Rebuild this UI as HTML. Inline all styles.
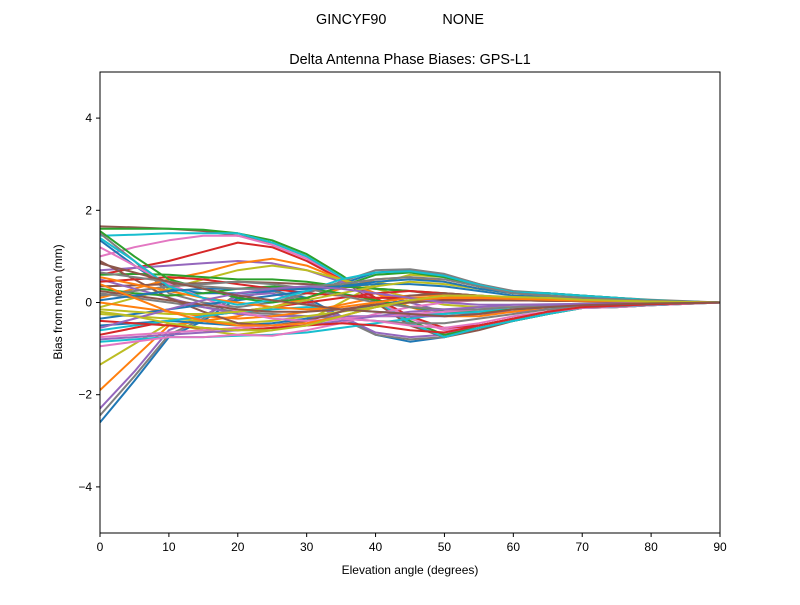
<!DOCTYPE html>
<html><head><meta charset="utf-8"><style>
body{margin:0;background:#fff}
svg text{font-family:"Liberation Sans","DejaVu Sans",sans-serif;fill:#000}
</style></head><body>
<svg id="chart" width="800" height="600" xmlns="http://www.w3.org/2000/svg">
<rect width="800" height="600" fill="#fff"/>
<text x="400" y="24" font-size="14.4" text-anchor="middle" xml:space="preserve">GINCYF90              NONE</text>
<text x="410" y="64" font-size="14.4" text-anchor="middle">Delta Antenna Phase Biases: GPS-L1</text>
<g id="plot"></g>
<rect x="100" y="72" width="620" height="461" fill="none" stroke="#000" stroke-width="1"/>
<g id="axes"></g>
<text x="410" y="574" font-size="12" text-anchor="middle">Elevation angle (degrees)</text>
<text transform="translate(62,302) rotate(-90)" font-size="12" text-anchor="middle">Bias from mean (mm)</text>
</svg>
<script>
const elevations=[0,5,10,15,20,25,30,35,40,45,50,55,60,65,70,75,80,85,90];
const xTicks=[0,10,20,30,40,50,60,70,80,90];
const yTicks=[-4,-2,0,2,4];
const yTickLabels=["\u22124","\u22122","0","2","4"];
const s01=[-2.6,-1.7,-0.75,-0.4,0.1,0.25,0.1,-0.3,-0.7,-0.85,-0.75,-0.55,-0.4,-0.25,-0.1,-0.08,-0.05,-0.02,0];
const s02=[-2.45,-1.6,-0.7,-0.35,0.2,0.25,0.05,-0.35,-0.7,-0.8,-0.75,-0.55,-0.4,-0.25,-0.1,-0.08,-0.05,-0.02,0];
const s03=[-2.3,-1.5,-0.6,-0.3,0.15,0.2,0.0,-0.3,-0.65,-0.75,-0.7,-0.5,-0.35,-0.2,-0.1,-0.06,-0.04,-0.02,0];
const s04=[-1.9,-1.2,-0.5,-0.4,-0.3,-0.1,0.1,0.3,0.5,0.55,0.45,0.3,0.2,0.15,0.1,0.06,0.04,0.02,0];
const s05=[-1.35,-0.9,-0.45,-0.6,-0.7,-0.6,-0.4,0.0,0.4,0.6,0.55,0.35,0.2,0.2,0.15,0.1,0.05,0.02,0];
const s06=[1.65,1.63,1.6,1.55,1.45,1.3,1.0,0.5,0.0,-0.5,-0.75,-0.6,-0.4,-0.25,-0.12,-0.1,-0.06,-0.03,0];
const s07=[1.6,1.6,1.6,1.58,1.5,1.35,1.05,0.6,0.1,-0.4,-0.7,-0.55,-0.4,-0.25,-0.12,-0.1,-0.06,-0.03,0];
const s08=[1.45,1.47,1.5,1.5,1.5,1.3,1.0,0.55,0.05,-0.45,-0.75,-0.55,-0.4,-0.25,-0.12,-0.1,-0.06,-0.03,0];
const s09=[1.0,1.2,1.35,1.45,1.45,1.25,0.95,0.5,0.05,-0.35,-0.6,-0.5,-0.35,-0.2,-0.12,-0.1,-0.06,-0.03,0];
const s10=[0.6,0.75,0.9,1.1,1.3,1.2,0.9,0.5,0.1,-0.3,-0.55,-0.5,-0.35,-0.2,-0.1,-0.08,-0.05,-0.02,0];
const s11=[1.35,0.8,0.3,0.2,0.2,0.25,0.3,0.4,0.65,0.7,0.6,0.4,0.2,0.2,0.15,0.1,0.05,0.02,0];
const s12=[1.5,0.9,0.2,0.0,-0.1,0.0,0.2,0.45,0.7,0.72,0.62,0.4,0.25,0.2,0.15,0.1,0.06,0.03,0];
const s13=[0.7,0.75,0.8,0.85,0.9,0.85,0.7,0.45,0.2,0.0,-0.2,-0.25,-0.2,-0.15,-0.1,-0.07,-0.05,-0.02,0];
const s14=[0.1,0.3,0.5,0.65,0.85,0.95,0.8,0.5,0.2,-0.1,-0.3,-0.3,-0.2,-0.1,-0.05,-0.04,-0.03,-0.01,0];
const s15=[-0.1,0.1,0.3,0.5,0.7,0.8,0.7,0.5,0.3,0.1,-0.05,-0.1,-0.1,-0.05,-0.03,-0.02,-0.01,0,0];
const s16=[0.35,0.37,0.4,0.42,0.45,0.43,0.4,0.35,0.3,0.25,0.15,0.1,0.05,0.05,0.03,0.02,0.01,0,0];
const s17=[0.6,0.62,0.6,0.55,0.5,0.5,0.45,0.35,0.3,0.25,0.2,0.15,0.1,0.1,0.08,0.05,0.03,0.01,0];
const s18=[-0.85,-0.8,-0.75,-0.75,-0.72,-0.7,-0.65,-0.55,-0.45,-0.35,-0.25,-0.15,-0.1,-0.1,-0.1,-0.08,-0.05,-0.02,0];
const s19=[-0.95,-0.85,-0.75,-0.75,-0.7,-0.72,-0.6,-0.45,-0.25,-0.1,0.0,0.05,0.1,0.1,0.08,0.05,0.03,0.01,0];
const s20=[-0.7,-0.55,-0.4,-0.3,-0.2,-0.1,0.0,0.1,0.2,0.25,0.2,0.15,0.1,0.08,0.06,0.04,0.02,0.01,0];
const s21=[-0.5,-0.45,-0.4,-0.45,-0.5,-0.45,-0.35,-0.2,-0.05,0.05,0.05,0.05,0.05,0.04,0.03,0.02,0.01,0,0];
const s22=[0.2,0.1,0.0,-0.1,-0.2,-0.25,-0.3,-0.35,-0.4,-0.45,-0.45,-0.35,-0.25,-0.15,-0.1,-0.07,-0.04,-0.02,0];
const s23=[0.5,0.3,0.1,-0.1,-0.25,-0.3,-0.3,-0.3,-0.3,-0.3,-0.3,-0.25,-0.15,-0.1,-0.05,-0.04,-0.03,-0.01,0];
const s24=[0.0,-0.1,-0.2,-0.3,-0.35,-0.3,-0.2,-0.05,0.1,0.15,0.15,0.12,0.1,0.08,0.05,0.04,0.02,0.01,0];
const s25=[-0.25,-0.3,-0.35,-0.4,-0.45,-0.4,-0.3,-0.2,-0.1,0.0,0.05,0.05,0.05,0.04,0.03,0.02,0.01,0,0];
const s26=[0.9,0.5,0.1,-0.2,-0.45,-0.5,-0.4,-0.2,0.0,0.15,0.2,0.15,0.1,0.08,0.05,0.04,0.02,0.01,0];
const s27=[0.3,0.2,0.15,0.2,0.3,0.35,0.3,0.2,0.05,-0.1,-0.2,-0.2,-0.15,-0.1,-0.05,-0.04,-0.02,-0.01,0];
const s28=[-0.6,-0.5,-0.4,-0.3,-0.2,-0.15,-0.1,-0.15,-0.2,-0.25,-0.25,-0.2,-0.1,-0.08,-0.05,-0.04,-0.02,-0.01,0];
const s29=[1.2,0.8,0.4,0.1,-0.2,-0.35,-0.4,-0.35,-0.3,-0.25,-0.2,-0.15,-0.1,-0.08,-0.05,-0.04,-0.02,-0.01,0];
const s30=[0.45,0.5,0.55,0.5,0.4,0.3,0.2,0.15,0.1,0.1,0.08,0.06,0.05,0.04,0.03,0.02,0.01,0,0];
const s31=[-0.35,-0.25,-0.15,-0.05,0.05,0.15,0.25,0.35,0.4,0.4,0.35,0.25,0.15,0.12,0.1,0.06,0.04,0.02,0];
const s32=[0.15,0.25,0.35,0.4,0.45,0.4,0.3,0.15,0.0,-0.1,-0.15,-0.15,-0.1,-0.08,-0.05,-0.03,-0.02,-0.01,0];
const s33=[-0.8,-0.75,-0.7,-0.65,-0.6,-0.55,-0.5,-0.4,-0.3,-0.2,-0.15,-0.1,-0.05,-0.05,-0.04,-0.03,-0.02,-0.01,0];
const s34=[0.55,0.4,0.25,0.1,0.0,-0.1,-0.15,-0.1,0.0,0.1,0.1,0.1,0.1,0.08,0.06,0.04,0.02,0.01,0];
const s35=[-0.15,-0.2,-0.25,-0.25,-0.2,-0.1,0.05,0.2,0.35,0.45,0.4,0.3,0.2,0.15,0.1,0.07,0.04,0.02,0];
const s36=[0.25,0.15,0.05,-0.05,-0.15,-0.2,-0.2,-0.15,-0.05,0.0,0.05,0.05,0.05,0.04,0.03,0.02,0.01,0,0];
const s37=[1.55,1.0,0.5,0.3,0.1,0.0,0.1,0.35,0.6,0.65,0.55,0.35,0.22,0.2,0.15,0.1,0.05,0.02,0];
const s38=[1.4,0.9,0.35,0.1,-0.05,0.05,0.25,0.5,0.65,0.68,0.58,0.38,0.22,0.2,0.15,0.1,0.05,0.02,0];
const s39=[-0.75,-0.7,-0.65,-0.6,-0.55,-0.5,-0.45,-0.35,-0.4,-0.5,-0.55,-0.45,-0.3,-0.2,-0.1,-0.07,-0.04,-0.02,0];
const s40=[-0.4,-0.45,-0.5,-0.55,-0.6,-0.55,-0.5,-0.45,-0.5,-0.6,-0.65,-0.5,-0.35,-0.2,-0.1,-0.07,-0.04,-0.02,0];
const s41=[0.05,0.15,0.25,0.3,0.3,0.3,0.3,0.35,0.45,0.5,0.45,0.3,0.2,0.15,0.1,0.07,0.04,0.02,0];
const s42=[0.65,0.55,0.45,0.35,0.3,0.3,0.35,0.4,0.5,0.55,0.5,0.35,0.2,0.15,0.1,0.07,0.04,0.02,0];
const s43=[-0.55,-0.35,-0.15,0.05,0.2,0.3,0.35,0.3,0.2,0.1,0.0,-0.05,-0.05,-0.04,-0.03,-0.02,-0.01,0,0];
const s44=[0.4,0.1,-0.2,-0.4,-0.5,-0.5,-0.45,-0.3,-0.1,0.05,0.1,0.1,0.08,0.06,0.04,0.03,0.02,0.01,0];
const s45=[-0.2,-0.3,-0.45,-0.55,-0.6,-0.6,-0.5,-0.3,-0.1,0.05,0.15,0.15,0.12,0.1,0.06,0.04,0.02,0.01,0];
const s46=[0.85,0.65,0.45,0.3,0.15,0.05,-0.05,-0.15,-0.2,-0.25,-0.3,-0.25,-0.15,-0.1,-0.06,-0.04,-0.02,-0.01,0];
const series=[s01,s02,s03,s04,s05,s06,s07,s08,s09,s10,s11,s12,s13,s14,s15,s16,s17,s18,s19,s20,s21,s22,s23,s24,s25,s26,s27,s28,s29,s30,s31,s32,s33,s34,s35,s36,s37,s38,s39,s40,s41,s42,s43,s44,s45,s46];
const colors=["#1f77b4","#ff7f0e","#2ca02c","#d62728","#9467bd","#8c564b","#e377c2","#7f7f7f","#bcbd22","#17becf"];
const NS="http://www.w3.org/2000/svg";
const x0=100,x1=720,yTop=72,yBot=533;
const xs=v=>x0+(v-0)/(90-0)*(x1-x0);
const ys=v=>yBot-(v+5)/10*(yBot-yTop);
const plot=document.getElementById('plot');
const clip=document.createElementNS(NS,'clipPath');clip.setAttribute('id','cp');
const cr=document.createElementNS(NS,'rect');cr.setAttribute('x',x0);cr.setAttribute('y',yTop);cr.setAttribute('width',x1-x0);cr.setAttribute('height',yBot-yTop);
clip.appendChild(cr);plot.appendChild(clip);plot.setAttribute('clip-path','url(#cp)');
series.forEach((s,i)=>{
  const p=document.createElementNS(NS,'polyline');
  p.setAttribute('points',s.map((v,j)=>xs(elevations[j]).toFixed(1)+','+ys(v).toFixed(1)).join(' '));
  p.setAttribute('fill','none');
  p.setAttribute('stroke',colors[(i*7)%10]);
  p.setAttribute('stroke-width','2');
  p.setAttribute('stroke-linejoin','round');
  
  
  plot.appendChild(p);
});
const axes=document.getElementById('axes');
xTicks.forEach(t=>{
  const l=document.createElementNS(NS,'line');
  l.setAttribute('x1',xs(t));l.setAttribute('x2',xs(t));l.setAttribute('y1',yBot);l.setAttribute('y2',yBot+4);l.setAttribute('stroke','#000');
  
  
  axes.appendChild(l);
  const tx=document.createElementNS(NS,'text');
  tx.setAttribute('x',xs(t));tx.setAttribute('y',yBot+18);tx.setAttribute('font-size','12');tx.setAttribute('text-anchor','middle');
  tx.textContent=t;
  
  
  axes.appendChild(tx);
});
yTicks.forEach((t,i)=>{
  const l=document.createElementNS(NS,'line');
  l.setAttribute('x1',x0-4);l.setAttribute('x2',x0);l.setAttribute('y1',ys(t));l.setAttribute('y2',ys(t));l.setAttribute('stroke','#000');
  
  
  axes.appendChild(l);
  const tx=document.createElementNS(NS,'text');
  tx.setAttribute('x',x0-8);tx.setAttribute('y',ys(t)+4);tx.setAttribute('font-size','12');tx.setAttribute('text-anchor','end');
  tx.textContent=yTickLabels[i];
  
  
  axes.appendChild(tx);
});
</script>
</body></html>
